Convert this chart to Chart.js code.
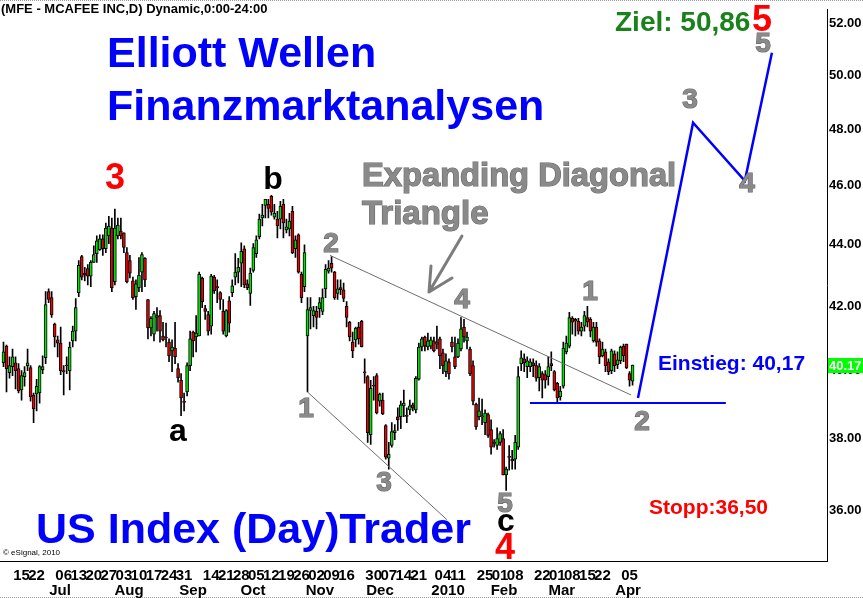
<!DOCTYPE html>
<html>
<head>
<meta charset="utf-8">
<script src="https://cdn.jsdelivr.net/npm/chart.js"></script>
<style>
  html, body { margin: 0; padding: 0; background: #fff; }
</style>
</head>
<body>
<canvas id="chart" width="863" height="598"></canvas>
<script>
// MFE daily candles, Jun 5 2009 .. Apr 5 2010
const openPrices = [
  40.24, 40.75, 39.94, 40.12, 40.24, 40.06, 39.42, 39.82, 40.15, 40.09,
  39.27, 39.30, 39.33, 40.03, 40.39, 42.46, 42.27, 41.43, 40.94, 40.84,
  40.00, 40.15, 40.00, 40.91, 41.21, 42.43, 43.60, 43.06, 43.21, 42.96,
  43.41, 43.70, 43.83, 44.19, 43.86, 44.29, 44.55, 42.78, 44.29, 44.45,
  44.39, 43.73, 43.47, 42.81, 42.30, 42.59, 43.09, 43.54, 42.21, 41.31,
  41.12, 41.64, 41.70, 41.06, 41.01, 40.87, 40.60, 40.69, 40.06, 39.71,
  39.07, 39.36, 40.15, 41.18, 41.03, 41.06, 42.90, 41.92, 41.73, 41.37,
  42.93, 42.62, 42.43, 41.83, 41.06, 42.17, 42.43, 42.93, 43.09, 43.38,
  43.86, 42.71, 42.40, 43.15, 43.70, 44.26, 44.89, 45.32, 45.36, 45.63,
  44.92, 44.85, 44.85, 45.36, 44.49, 44.52, 45.12, 43.86, 44.32, 43.02,
  42.62, 41.06, 41.86, 41.70, 41.83, 41.92, 41.83, 42.55, 43.12, 43.38,
  43.09, 42.40, 42.59, 42.52, 41.99, 41.49, 40.87, 40.94, 41.34, 41.52,
  39.95, 39.82, 38.11, 39.56, 39.85, 39.09, 39.12, 38.37, 37.44, 37.80,
  38.17, 38.63, 38.63, 38.95, 38.66, 38.83, 38.98, 38.83, 39.74, 40.72,
  41.03, 40.72, 40.75, 40.91, 40.81, 40.97, 40.54, 39.97, 40.27, 40.87,
  40.42, 40.42, 40.66, 41.34, 40.91, 40.66, 40.15, 39.00, 38.63, 38.63,
  38.46, 38.69, 38.26, 37.87, 37.80, 37.89, 38.00, 36.97, 37.47, 37.41,
  37.41, 37.75, 40.21, 40.36, 40.12, 40.12, 40.24, 40.15, 39.79, 39.91,
  39.88, 39.82, 40.21, 39.97, 39.62, 39.21, 39.53, 40.57, 40.75, 41.61,
  41.58, 41.52, 41.21, 41.37, 41.64, 41.58, 40.91, 41.34, 40.91, 40.45,
  40.57, 40.27, 40.00, 40.51, 40.18, 40.30, 40.75, 40.81, 39.91, 39.68
];
const highPrices = [
  40.87, 40.78, 40.42, 40.66, 40.42, 40.21, 40.00, 40.12, 40.66, 40.15,
  39.33, 39.74, 40.15, 40.45, 42.46, 42.55, 42.46, 41.46, 41.06, 41.34,
  40.15, 40.42, 40.87, 41.37, 42.24, 43.47, 43.64, 43.25, 43.34, 43.47,
  43.96, 44.29, 44.32, 44.32, 44.72, 44.95, 44.89, 45.19, 44.89, 44.89,
  44.39, 43.90, 43.64, 42.93, 42.84, 43.57, 43.73, 43.57, 42.21, 41.67,
  41.83, 41.95, 41.86, 41.49, 41.46, 40.97, 40.94, 41.49, 40.21, 39.91,
  39.33, 40.24, 41.21, 41.21, 41.70, 43.09, 42.93, 42.02, 41.83, 43.02,
  42.99, 42.84, 42.46, 42.21, 41.89, 42.30, 42.84, 43.70, 43.54, 44.06,
  43.96, 42.84, 43.22, 44.03, 44.29, 45.02, 45.36, 45.53, 45.53, 45.67,
  45.36, 45.12, 45.46, 45.53, 44.85, 45.05, 45.29, 44.29, 44.36, 43.09,
  43.99, 42.27, 42.27, 41.99, 41.99, 42.27, 42.55, 43.34, 43.47, 43.60,
  43.12, 42.84, 42.84, 42.74, 42.14, 41.52, 41.18, 41.34, 41.49, 41.55,
  40.36, 39.85, 39.71, 39.82, 39.91, 39.33, 39.33, 38.40, 37.89, 38.46,
  38.40, 38.89, 39.09, 39.42, 38.89, 39.12, 39.03, 39.82, 40.84, 41.03,
  41.06, 41.15, 41.03, 41.03, 41.37, 41.03, 40.66, 40.51, 40.36, 41.03,
  41.03, 40.97, 41.64, 41.58, 41.18, 40.72, 40.30, 39.03, 39.18, 39.15,
  38.83, 38.74, 38.54, 37.97, 38.31, 38.20, 38.26, 37.19, 37.80, 37.66,
  38.09, 40.12, 40.60, 40.51, 40.42, 40.36, 40.36, 40.30, 40.21, 39.97,
  40.00, 40.42, 40.57, 40.00, 39.65, 39.53, 40.87, 41.06, 41.80, 41.67,
  41.61, 41.61, 41.49, 41.83, 41.99, 41.64, 41.49, 41.49, 40.97, 40.87,
  40.66, 40.36, 40.66, 40.60, 40.57, 40.75, 40.81, 40.81, 39.97, 40.17
];
const lowPrices = [
  40.12, 39.36, 39.77, 39.85, 39.45, 39.33, 39.12, 39.53, 40.00, 39.09,
  38.46, 38.80, 39.03, 39.91, 40.21, 42.11, 41.64, 40.72, 40.42, 39.88,
  39.27, 39.91, 39.42, 40.72, 40.91, 42.30, 42.84, 42.81, 42.68, 42.62,
  43.41, 43.41, 43.80, 43.64, 43.73, 44.03, 42.46, 42.68, 44.19, 44.19,
  43.73, 42.74, 42.90, 42.21, 41.89, 42.46, 42.46, 42.62, 40.97, 41.06,
  40.91, 41.21, 40.87, 40.91, 40.72, 40.27, 39.97, 40.21, 39.65, 38.66,
  38.80, 39.24, 40.00, 40.42, 40.57, 41.06, 41.95, 41.58, 41.09, 41.12,
  42.40, 42.11, 41.89, 41.12, 41.03, 41.18, 42.30, 42.68, 42.74, 42.62,
  42.59, 42.52, 42.02, 43.09, 43.57, 44.19, 44.62, 44.89, 44.89, 44.99,
  44.85, 44.22, 44.52, 44.22, 44.39, 44.29, 43.70, 43.57, 43.06, 42.11,
  42.46, 39.36, 41.28, 41.34, 41.28, 41.64, 41.73, 42.27, 43.06, 43.09,
  42.21, 42.21, 42.36, 42.14, 41.34, 40.91, 40.39, 40.72, 40.81, 40.72,
  39.62, 37.89, 37.83, 39.12, 38.71, 38.94, 38.69, 37.41, 37.13, 37.75,
  37.97, 38.23, 38.28, 38.63, 38.46, 38.69, 38.80, 38.74, 39.71, 40.60,
  40.60, 40.63, 40.66, 40.57, 40.66, 40.06, 39.91, 39.82, 39.74, 40.57,
  40.06, 40.39, 40.60, 40.87, 40.66, 39.85, 38.98, 38.26, 38.54, 38.40,
  38.11, 38.03, 37.55, 37.75, 37.69, 37.80, 36.97, 36.54, 37.10, 37.13,
  37.13, 37.69, 40.00, 39.97, 39.79, 39.97, 39.82, 39.68, 39.39, 39.18,
  39.47, 39.56, 40.00, 39.39, 39.03, 39.12, 39.47, 40.51, 40.69, 41.12,
  41.06, 41.12, 41.06, 41.21, 41.34, 41.03, 40.87, 40.75, 40.21, 40.42,
  39.97, 39.88, 39.91, 39.97, 40.06, 40.21, 40.27, 40.06, 39.53, 39.56
];
const closePrices = [
  40.57, 40.06, 40.15, 40.42, 40.00, 39.39, 39.85, 39.94, 40.24, 39.21,
  38.86, 39.53, 40.12, 40.12, 42.05, 42.21, 41.73, 41.03, 40.84, 40.00,
  39.97, 40.14, 40.72, 41.21, 41.95, 43.31, 42.93, 42.99, 42.96, 43.41,
  43.67, 44.12, 44.19, 43.86, 44.55, 44.62, 42.59, 44.55, 44.65, 44.29,
  43.90, 42.78, 43.06, 42.27, 42.71, 42.99, 43.67, 42.84, 41.31, 41.61,
  41.76, 41.70, 41.21, 40.94, 41.00, 40.45, 40.72, 40.42, 39.79, 39.18,
  39.05, 40.15, 40.97, 40.91, 41.15, 43.02, 42.14, 41.83, 41.21, 42.96,
  42.49, 42.58, 42.21, 41.21, 41.86, 41.46, 42.65, 43.09, 43.25, 43.77,
  42.68, 42.59, 43.06, 43.90, 44.16, 44.85, 44.99, 45.53, 45.22, 45.09,
  45.05, 44.62, 45.29, 44.72, 44.59, 44.79, 43.73, 44.16, 43.09, 42.27,
  43.73, 41.89, 41.95, 41.86, 41.64, 42.11, 42.27, 43.18, 43.22, 43.22,
  42.27, 42.55, 42.52, 42.24, 41.64, 41.03, 40.60, 41.31, 40.97, 40.72,
  39.93, 38.17, 39.47, 39.53, 38.74, 39.30, 38.71, 37.47, 37.55, 38.20,
  38.23, 38.54, 38.98, 39.03, 38.64, 38.95, 38.89, 39.77, 40.72, 40.97,
  40.75, 40.91, 40.94, 40.60, 40.87, 40.45, 40.15, 40.30, 39.91, 40.72,
  40.12, 40.84, 41.28, 41.03, 41.03, 39.91, 39.09, 38.34, 38.80, 38.66,
  38.74, 38.09, 37.75, 37.86, 38.00, 38.14, 36.97, 37.13, 37.46, 37.36,
  37.89, 39.82, 40.39, 40.24, 40.30, 40.27, 40.15, 39.77, 40.12, 39.71,
  39.71, 40.12, 40.15, 39.42, 39.18, 39.39, 40.69, 40.84, 41.64, 41.49,
  41.52, 41.21, 41.34, 41.70, 41.49, 41.21, 41.34, 40.87, 40.42, 40.66,
  40.15, 39.97, 40.60, 40.15, 40.33, 40.72, 40.45, 40.09, 39.71, 40.17
];

// axis ticks (bar index of each label)
const dayTickIdx = [6, 11, 20, 25, 30, 35, 40, 45, 50, 55, 60, 69, 74, 79, 84, 89, 94, 99, 104, 109,
  114, 123, 128, 133, 138, 146, 151, 160, 165, 170, 179, 184, 189, 194, 199, 208];
const dayTickLabels = ['15', '22', '06', '13', '20', '27', '03', '10', '17', '24', '31', '14', '21', '28',
  '05', '12', '19', '26', '02', '09', '16', '30', '07', '14', '21', '04', '11', '25', '01', '08',
  '22', '01', '08', '15', '22', '05'];
const monthTickIdx = [18.8, 41.7, 63, 82.9, 105.1, 125.1, 147.7, 166.3, 185.5, 207.5];
const monthTickLabels = ['Jul', 'Aug', 'Sep', 'Oct', 'Nov', 'Dec', '2010', 'Feb', 'Mar', 'Apr'];
const priceTicks = [36, 38, 40, 42, 44, 46, 48, 50, 52];

// drawn lines: triangle boundaries, entry level, projected waves 2-3-4-5
const upperLineIdx = [108.5, 208.5];
const upperLinePrice = [43.64, 39.27];
const lowerLineIdx = [101, 147.3];
const lowerLinePrice = [39.36, 35.74];
const entryLineIdx = [174.9, 240];
const entryLinePrice = [39.03, 39.03];
const projIdx = [210.8, 229.1, 246.3, 255.3];
const projPrice = [39.18, 48.24, 46.17, 50.86];

const X_MIN = -1.16, X_MAX = 273.6;
const Y_MIN = 34.64, Y_MAX = 52.54;

const UP = '#00e400', DOWN = '#ee0000';
const SANS = "'Liberation Sans', Arial, sans-serif";
const NARROW = "'Liberation Sans Narrow', 'Liberation Sans', Arial, sans-serif";

const pts = (xs, ys) => xs.map((x, i) => ({ x: x, y: ys[i] }));

function text(ctx, s, x, y, size, color, align, stroke) {
  ctx.font = 'bold ' + size + 'px ' + SANS;
  ctx.textAlign = align || 'left';
  ctx.textBaseline = 'alphabetic';
  if (stroke) {
    ctx.lineWidth = 1.2;
    ctx.strokeStyle = stroke;
    ctx.strokeText(s, x, y);
  }
  ctx.fillStyle = color;
  ctx.fillText(s, x, y);
}

const overlay = {
  id: 'overlay',
  beforeDraw(chart) {
    const ctx = chart.ctx;
    ctx.save();
    ctx.fillStyle = '#fff';
    ctx.fillRect(0, 0, chart.width, chart.height);
    ctx.strokeStyle = '#9a9a9a';
    ctx.lineWidth = 1;
    ctx.setLineDash([1, 1]);
    ctx.beginPath();
    ctx.moveTo(0, 0.5); ctx.lineTo(chart.width, 0.5);
    ctx.moveTo(0, chart.height - 0.5); ctx.lineTo(chart.width, chart.height - 0.5);
    ctx.stroke();
    ctx.restore();
  },
  afterDatasetsDraw(chart) {
    const ctx = chart.ctx;
    ctx.save();
    text(ctx, '(MFE - MCAFEE INC,D) Dynamic,0:00-24:00', 1, 13, 13, '#000');
    text(ctx, 'Elliott Wellen', 107, 67, 43, '#0000ff');
    text(ctx, 'Finanzmarktanalysen', 107, 120, 43, '#0000ff');
    text(ctx, 'US Index (Day)Trader', 36, 543, 43, '#0000ff');
    text(ctx, 'Ziel: 50,86', 615, 31, 28, '#1a821a');
    text(ctx, '5', 762, 31, 36, '#ff0000', 'center');
    text(ctx, 'Expanding Diagonal', 362, 186, 32.7, '#8a8a8a', 'left', '#666');
    text(ctx, 'Triangle', 362, 224, 33, '#8a8a8a', 'left', '#666');
    text(ctx, 'Einstieg: 40,17', 658, 370, 21, '#0000ff');
    text(ctx, 'Stopp:36,50', 649, 514, 21, '#ff0000');

    // wave counts
    text(ctx, '3', 115, 189, 36, '#ff0000', 'center');
    text(ctx, 'a', 178, 441, 32, '#000', 'center');
    text(ctx, 'b', 273, 189, 32, '#000', 'center');
    text(ctx, 'c', 506, 531, 32, '#000', 'center');
    text(ctx, '4', 505, 559, 36, '#ff0000', 'center');
    const grey = [['2', 331, 252], ['1', 306, 417], ['3', 384, 491], ['4', 462, 308], ['5', 505, 512],
      ['1', 590, 300], ['2', 642, 430], ['3', 690, 108], ['4', 747, 192], ['5', 763, 52]];
    grey.forEach(g => text(ctx, g[0], g[1], g[2], 28, '#8a8a8a', 'center', '#666'));

    // arrow pointing at the upper boundary
    ctx.strokeStyle = '#7c7c7c';
    ctx.lineWidth = 3;
    ctx.lineCap = 'round';
    ctx.beginPath();
    ctx.moveTo(462, 236); ctx.lineTo(429, 292);
    ctx.moveTo(429, 292); ctx.lineTo(431, 266);
    ctx.moveTo(429, 292); ctx.lineTo(452, 278);
    ctx.stroke();

    ctx.font = '8px ' + SANS;
    ctx.fillStyle = '#000';
    ctx.textAlign = 'left';
    ctx.fillText('\u00A9 eSignal, 2010', 3, 555);
    ctx.restore();
  },
  afterDraw(chart) {
    const ctx = chart.ctx;
    const y = chart.scales.y;
    const last = closePrices[closePrices.length - 1];
    const py = Math.round(y.getPixelForValue(last));
    ctx.save();
    ctx.fillStyle = '#00ff00';
    ctx.fillRect(chart.chartArea.right + 1, py - 7, 35, 15);
    ctx.font = 'bold 13px ' + SANS;
    ctx.fillStyle = '#fff';
    ctx.textAlign = 'left';
    ctx.textBaseline = 'middle';
    ctx.fillText(last.toFixed(2), chart.chartArea.right + 2, py + 1);
    ctx.restore();
  }
};

const idx = openPrices.map((_, i) => i);

new Chart(document.getElementById('chart'), {
  type: 'bar',
  data: {
    datasets: [
      {
        label: 'body',
        data: idx.map(i => ({ x: i, y: [openPrices[i], closePrices[i]] })),
        backgroundColor: idx.map(i => closePrices[i] >= openPrices[i] ? UP : DOWN),
        borderColor: '#000',
        borderWidth: 1,
        borderSkipped: false,
        barThickness: 3,
        minBarLength: 1,
        grouped: false,
        order: 1
      },
      {
        label: 'wick',
        data: idx.map(i => ({ x: i, y: [lowPrices[i], highPrices[i]] })),
        backgroundColor: '#000',
        borderWidth: 0,
        barThickness: 1,
        grouped: false,
        order: 2
      },
      {
        type: 'line', label: 'upper',
        data: pts(upperLineIdx, upperLinePrice),
        borderColor: '#6e6e6e', borderWidth: 1, pointRadius: 0, order: 0
      },
      {
        type: 'line', label: 'lower',
        data: pts(lowerLineIdx, lowerLinePrice),
        borderColor: '#6e6e6e', borderWidth: 1, pointRadius: 0, order: 0
      },
      {
        type: 'line', label: 'entry',
        data: pts(entryLineIdx, entryLinePrice),
        borderColor: '#0000ff', borderWidth: 2, pointRadius: 0, order: 0
      },
      {
        type: 'line', label: 'projection',
        data: pts(projIdx, projPrice),
        borderColor: '#0000ff', borderWidth: 2.5, pointRadius: 0, tension: 0, order: 0
      }
    ]
  },
  options: {
    responsive: false,
    animation: false,
    events: [],
    layout: { padding: 0 },
    plugins: { legend: { display: false }, tooltip: { enabled: false } },
    scales: {
      x: {
        type: 'linear', position: 'bottom', min: X_MIN, max: X_MAX, offset: false, weight: 0,
        grid: { display: false, drawTicks: false },
        border: { display: true, color: '#000', width: 1 },
        afterBuildTicks: s => { s.ticks = dayTickIdx.map(v => ({ value: v })); },
        afterFit: s => { s.height = 22; },
        ticks: {
          autoSkip: false, maxRotation: 0, minRotation: 0, padding: 6, color: '#000',
          font: { family: NARROW, size: 15, weight: 'bold', lineHeight: 1.2 },
          callback: (v, i) => dayTickLabels[i]
        }
      },
      x2: {
        type: 'linear', position: 'bottom', min: X_MIN, max: X_MAX, offset: false, weight: 1,
        grid: { display: false, drawTicks: false },
        border: { display: false },
        afterBuildTicks: s => { s.ticks = monthTickIdx.map(v => ({ value: v })); },
        afterFit: s => { s.height = 15; },
        ticks: {
          autoSkip: false, maxRotation: 0, minRotation: 0, padding: 0, color: '#000',
          font: { family: NARROW, size: 15, weight: 'bold', lineHeight: 1 },
          callback: (v, i) => monthTickLabels[i]
        }
      },
      y: {
        type: 'logarithmic', position: 'right', min: Y_MIN, max: Y_MAX,
        grid: { display: false, drawTicks: false },
        border: { display: true, color: '#000', width: 1 },
        afterBuildTicks: s => { s.ticks = priceTicks.map(v => ({ value: v })); },
        afterFit: s => { s.width = 36; },
        ticks: {
          padding: 2, color: '#000',
          font: { family: SANS, size: 13, weight: 'bold' },
          callback: v => Number(v).toFixed(2)
        }
      }
    }
  },
  plugins: [overlay]
});
</script>
</body>
</html>
